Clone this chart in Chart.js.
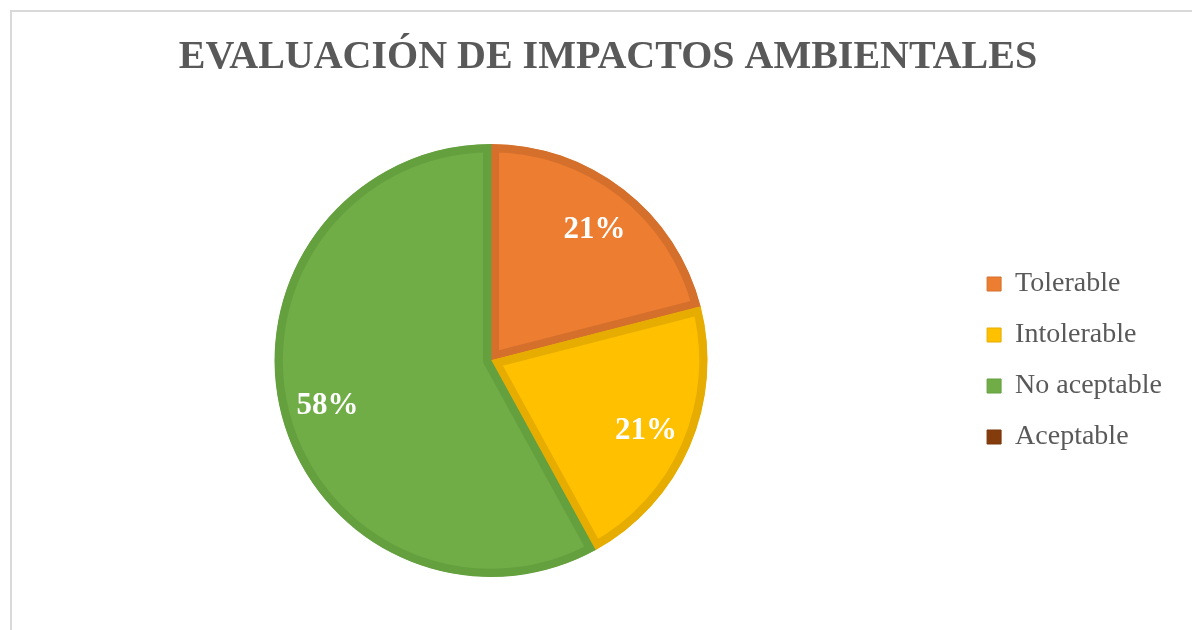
<!DOCTYPE html>
<html>
<head>
<meta charset="utf-8">
<script src="https://cdn.jsdelivr.net/npm/chart.js@4.4.0/dist/chart.umd.min.js"></script>
<style>
  html, body { margin: 0; padding: 0; background: #fff; overflow: hidden; }
  body { width: 1192px; height: 630px; position: relative; }
  .marco {
    position: absolute; left: 10px; top: 10px;
    width: 1210px; height: 650px;
    border-left: 2px solid #d9d9d9; border-top: 2px solid #d9d9d9;
  }
  .lienzo { position: absolute; left: 0; top: 0; width: 1196px; height: 640px; }
</style>
</head>
<body>
<div class="marco">
  <div class="lienzo"><canvas id="impactosChart" width="1196" height="640"></canvas></div>
</div>
<script>
const categorias = ['Tolerable', 'Intolerable', 'No aceptable', 'Aceptable'];
const valores = [21, 21, 58, 0];
const etiquetas = ['21%', '21%', '58%', ''];

const rellenos = ['#ED7D31', '#FFC000', '#70AD47', '#843C0C'];
const bordes = ['#D5702C', '#E6AD00', '#65A03F', '#773609'];

const ctx = document.getElementById('impactosChart').getContext('2d');

new Chart(ctx, {
  type: 'pie',
  data: {
    labels: categorias,
    datasets: [{
      data: valores,
      backgroundColor: rellenos,
      borderColor: bordes,
      borderWidth: 8,
      borderAlign: 'inner',
    }]
  },
  options: {
    responsive: false,
    animation: false,
    layout: {
      padding: { left: 6, right: 10, top: 0, bottom: 75 }
    },
    plugins: {
      tooltip: { enabled: false },
      title: {
        display: true,
        text: 'EVALUACIÓN DE IMPACTOS AMBIENTALES',
        color: '#595959',
        font: { family: 'Liberation Serif', size: 40, weight: 'bold' },
        padding: { top: 22, bottom: 62 }
      },
      legend: {
        position: 'right',
        fullSize: false,
        labels: {
          color: '#595959',
          font: { family: 'Liberation Serif', size: 28 },
          boxWidth: 14,
          boxHeight: 14,
          padding: 23,
          generateLabels: function (chart) {
            return categorias.map(function (c, i) {
              return {
                text: c,
                fillStyle: rellenos[i],
                strokeStyle: bordes[i],
                lineWidth: 1,
                fontColor: '#595959',
                hidden: false,
                index: i
              };
            });
          }
        }
      }
    }
  },
  plugins: [{
    // la leyenda ocupa mas ancho a la derecha, como en el original
    id: 'ancho-leyenda',
    afterInit: function (chart) {
      const legend = chart.legend;
      const fitOriginal = legend.fit;
      legend.fit = function () {
        fitOriginal.call(this);
        this.width += 26;
      };
    }
  }, {
    id: 'etiquetas-porcentaje',
    afterDatasetsDraw: function (chart) {
      const { ctx } = chart;
      const arcos = chart.getDatasetMeta(0).data;
      ctx.save();
      ctx.font = 'bold 31px "Liberation Serif"';
      ctx.fillStyle = '#fff';
      ctx.textAlign = 'center';
      ctx.textBaseline = 'middle';
      arcos.forEach(function (arco, i) {
        if (!valores[i]) return;
        const p = arco.getProps(['x', 'y', 'startAngle', 'endAngle', 'outerRadius']);
        const medio = (p.startAngle + p.endAngle) / 2;
        const r = p.outerRadius * 0.78;
        ctx.fillText(etiquetas[i], p.x + Math.cos(medio) * r, p.y + Math.sin(medio) * r + 3);
      });
      ctx.restore();
    }
  }]
});
</script>
</body>
</html>
